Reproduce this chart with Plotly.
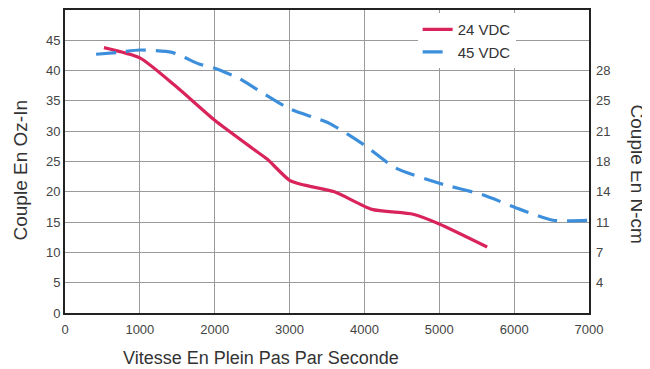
import plotly.graph_objects as go

# 24 VDC curve (oz-in vs full steps per second)
speed_24 = [520, 1000, 1500, 2000, 2500, 2700, 3000, 3200, 3600, 4100, 4650, 5000, 5640]
torque_24 = [43.8, 42.1, 37.2, 31.8, 27.2, 25.4, 21.9, 21.1, 20.0, 17.1, 16.3, 14.7, 10.9]

# 45 VDC curve
speed_45 = [415, 700, 1000, 1430, 1790, 2000, 2330, 2500, 3000, 3530, 4000, 4420, 5000, 5580, 6080, 6520, 7000]
torque_45 = [42.7, 43.0, 43.4, 43.0, 41.1, 40.4, 38.7, 37.4, 33.7, 31.3, 27.7, 23.9, 21.4, 19.5, 17.1, 15.3, 15.3]

x_ticks = [0, 1000, 2000, 3000, 4000, 5000, 6000, 7000]
y_ticks = [0, 5, 10, 15, 20, 25, 30, 35, 40, 45]
ncm_tick_pos = [5, 10, 15, 20, 25, 30, 35, 40]
ncm_tick_text = ["4", "7", "11", "14", "18", "21", "25", "28"]

FONT = "Liberation Sans, Arial, sans-serif"

fig = go.Figure()
fig.add_trace(go.Scatter(
    x=speed_24, y=torque_24, mode="lines", name="24 VDC",
    line=dict(color="#d9245b", width=3.2, shape="spline", smoothing=0.6),
))
fig.add_trace(go.Scatter(
    x=speed_45, y=torque_45, mode="lines", name="45 VDC",
    line=dict(color="#3d8fdb", width=3.2, dash="20px,10px", shape="spline", smoothing=0.6),
))
# empty trace to activate the secondary (N-cm) axis
fig.add_trace(go.Scatter(x=[], y=[], yaxis="y2", showlegend=False, hoverinfo="skip"))

fig.update_layout(
    width=642, height=361,
    margin=dict(l=57, r=61, t=0, b=56),
    paper_bgcolor="white", plot_bgcolor="white",
    font=dict(family=FONT, color="#333"),
    showlegend=True,
    legend=dict(x=0.673, y=0.99, xanchor="left", yanchor="top",
                bgcolor="white", borderwidth=0,
                font=dict(size=15, color="#333", family=FONT),
                tracegroupgap=0, itemwidth=30),
    xaxis=dict(range=[0, 7000], tickvals=x_ticks, showgrid=True,
               gridcolor="#9a9a9a", gridwidth=1, zeroline=False,
               showline=True, linecolor="#222", linewidth=2, mirror=True,
               ticks="", ticklabelstandoff=3, tickfont=dict(size=13, color="#444")),
    yaxis=dict(range=[0, 50], tickvals=y_ticks, showgrid=True,
               gridcolor="#9a9a9a", gridwidth=1, zeroline=False,
               showline=True, linecolor="#222", linewidth=2, mirror=True,
               ticks="", tickfont=dict(size=13, color="#444")),
    yaxis2=dict(range=[0, 50], overlaying="y", side="right",
                tickvals=ncm_tick_pos, ticktext=ncm_tick_text,
                showgrid=False, zeroline=False, showline=False,
                ticks="", ticklabelstandoff=6, tickfont=dict(size=13, color="#444")),
    annotations=[
        dict(text="Vitesse En Plein Pas Par Seconde", xref="paper", yref="paper",
             x=0.374, y=-0.149, xanchor="center", yanchor="middle", showarrow=False,
             font=dict(size=18, color="#333", family=FONT)),
        dict(text="Couple En Oz-In", xref="paper", yref="paper",
             x=-0.0855, y=0.471, xanchor="center", yanchor="middle", showarrow=False,
             textangle=-90, font=dict(size=19, color="#333", family=FONT)),
        dict(text="Couple En N-cm", xref="paper", yref="paper",
             x=1.0916, y=0.457, xanchor="center", yanchor="middle", showarrow=False,
             textangle=90, font=dict(size=19, color="#333", family=FONT)),
    ],
)

fig.write_html("out.html")
